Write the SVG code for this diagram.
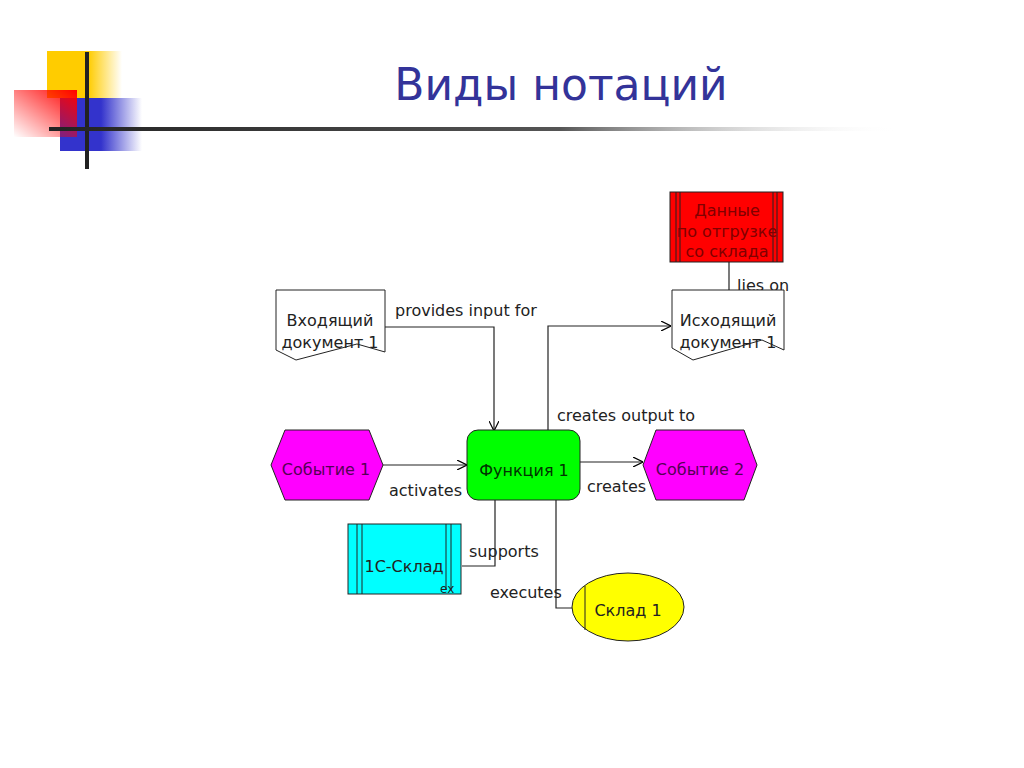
<svg xmlns="http://www.w3.org/2000/svg" width="1024" height="768" viewBox="0 0 1024 768">
<defs>
<linearGradient id="gY" x1="0" y1="0" x2="1" y2="0"><stop offset="0" stop-color="#FFCC00"/><stop offset="0.55" stop-color="#FFCC00"/><stop offset="1" stop-color="#FFCC00" stop-opacity="0"/></linearGradient>
<linearGradient id="gB" x1="0" y1="0" x2="1" y2="0"><stop offset="0" stop-color="#3333CC"/><stop offset="0.5" stop-color="#3333CC"/><stop offset="1" stop-color="#3333CC" stop-opacity="0"/></linearGradient>
<linearGradient id="gR" x1="1" y1="0" x2="0" y2="1"><stop offset="0" stop-color="#FF0000"/><stop offset="1" stop-color="#FF0000" stop-opacity="0"/></linearGradient>
<linearGradient id="gL" x1="49" y1="0" x2="900" y2="0" gradientUnits="userSpaceOnUse"><stop offset="0" stop-color="#222222"/><stop offset="0.6" stop-color="#555555"/><stop offset="1" stop-color="#FFFFFF" stop-opacity="0"/></linearGradient>
<marker id="arr" viewBox="0 0 10 10" refX="10" refY="5" markerWidth="10" markerHeight="10" markerUnits="userSpaceOnUse" orient="auto">
<path d="M0,0 L10,5 L0,10" fill="none" stroke="#000" stroke-width="1.2"/>
</marker>
<style>
.t{font-family:"DejaVu Sans","Liberation Sans",sans-serif;font-size:16px;fill:#222;}
.c{text-anchor:middle;}
.ln{fill:none;stroke:#222;stroke-width:1.2;}
.sh{stroke:#222;stroke-width:1;}
</style>
</defs>
<rect width="1024" height="768" fill="#FFFFFF"/>
<g id="decor">
<rect x="47" y="51" width="75" height="47" fill="url(#gY)"/>
<rect x="60" y="98" width="82" height="53" fill="url(#gB)"/>
<rect x="14" y="90" width="63" height="47" fill="url(#gR)"/>
<line x1="87" y1="52" x2="87" y2="169" stroke="#222" stroke-width="4"/>
<line x1="49" y1="129" x2="900" y2="129" stroke="url(#gL)" stroke-width="4"/>
</g>
<text x="561" y="100" font-family="DejaVu Sans, sans-serif" font-size="44" fill="#333399" text-anchor="middle">Виды нотаций</text>
<g id="connectors">
<path class="ln" d="M385,327 H494 V431" marker-end="url(#arr)"/>
<text class="t" x="395" y="316">provides input for</text>
<path class="ln" d="M548,431 V326 H671" marker-end="url(#arr)"/>
<text class="t" x="557" y="421">creates output to</text>
<path class="ln" d="M729,262 V290"/>
<text class="t" x="737" y="291">lies on</text>
<path class="ln" d="M383,465 H467" marker-end="url(#arr)"/>
<text class="t" x="389" y="496">activates</text>
<path class="ln" d="M580,462 H643" marker-end="url(#arr)"/>
<text class="t" x="587" y="492">creates</text>
<path class="ln" d="M462,566 H495 V500"/>
<text class="t" x="469" y="557">supports</text>
<path class="ln" d="M556,500 V608 H573"/>
<text class="t" x="490" y="598">executes</text>
</g>
<g id="doc-in">
<path class="sh" fill="#FFFFFF" d="M276,290 H385 V352 L357,344 L296,360 L276,350 Z"/>
<text class="t c" x="330" y="326">Входящий</text>
<text class="t c" x="330" y="348">документ 1</text>
</g>
<g id="doc-out">
<path class="sh" fill="#FFFFFF" d="M672,290 H784 V350 L762,340 L693,360 L672,348 Z"/>
<text class="t c" x="728" y="326">Исходящий</text>
<text class="t c" x="728" y="348">документ 1</text>
</g>
<g id="data">
<rect class="sh" x="670" y="192" width="113" height="70" fill="#FF0000"/>
<path class="sh" d="M676,192 V262 M680,192 V262 M773,192 V262 M777,192 V262" fill="none"/>
<text class="t c" x="727" y="216" style="fill:#800000">Данные</text>
<text class="t c" x="727" y="237" style="fill:#800000">по отгрузке</text>
<text class="t c" x="727" y="257" style="fill:#800000">со склада</text>
</g>
<g id="event1">
<polygon class="sh" points="271,465 285,430 369,430 383,465 369,500 285,500" fill="#FF00FF"/>
<text class="t c" x="326" y="475" style="fill:#550055">Событие 1</text>
</g>
<g id="func1">
<rect class="sh" x="467" y="430" width="113" height="70" rx="11" fill="#00FF00"/>
<text class="t c" x="524" y="476" style="fill:#003300">Функция 1</text>
</g>
<g id="event2">
<polygon class="sh" points="643,465 656,430 744,430 757,465 744,500 656,500" fill="#FF00FF"/>
<text class="t c" x="700" y="475" style="fill:#550055">Событие 2</text>
</g>
<g id="system">
<rect class="sh" x="348" y="524" width="113" height="70" fill="#00FFFF"/>
<path class="sh" d="M357,524 V594 M362,524 V594 M446,524 V590 M451,524 V590" fill="none"/>
<text class="t c" x="404" y="572">1С-Склад</text>
<text class="t" x="440" y="593" style="font-size:12px">ex</text>
</g>
<g id="org">
<ellipse class="sh" cx="628" cy="607" rx="56" ry="34" fill="#FFFF00"/>
<line class="sh" x1="585" y1="586" x2="585" y2="630"/>
<text class="t c" x="628" y="616">Склад 1</text>
</g>
</svg>
